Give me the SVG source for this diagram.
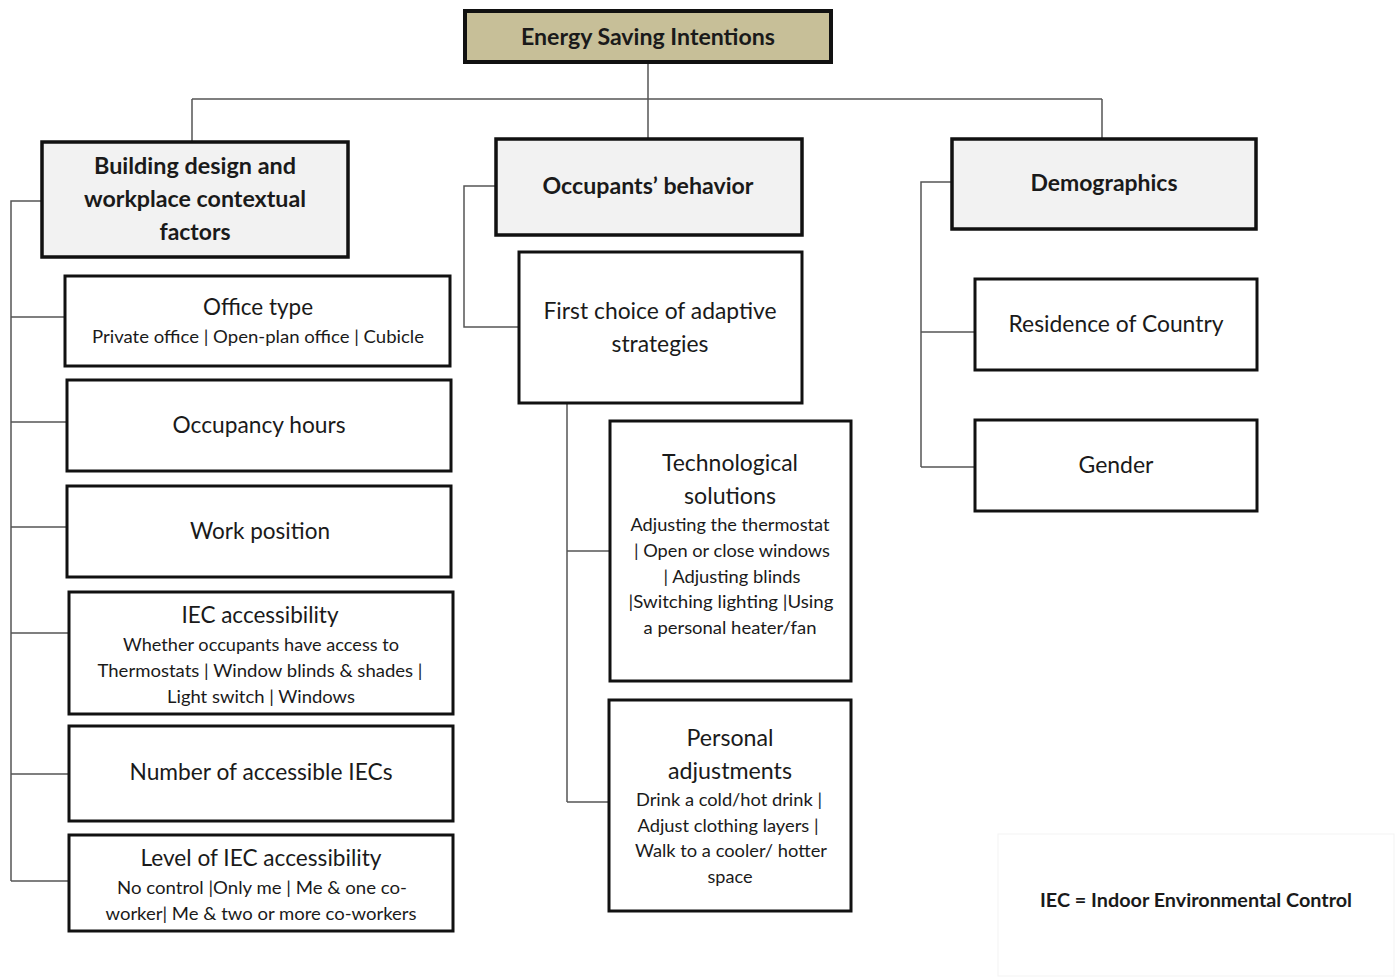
<svg xmlns="http://www.w3.org/2000/svg" width="1398" height="980" viewBox="0 0 1398 980">
<style>
.box{fill:#ffffff;stroke:#111;stroke-width:3}
.hdr{fill:#f2f2f2;stroke:#111;stroke-width:3.5}
.root{fill:#c7bf98;stroke:#111;stroke-width:4}
.t{font-family:Lato,"Open Sans","Liberation Sans",sans-serif;fill:#1a1a1a;text-anchor:middle}
.b{font-weight:bold;font-size:23px}
.m{font-size:23px}
.s{font-size:17px}
.c{fill:none;stroke:#555;stroke-width:1.5}
</style>
<rect width="1398" height="980" fill="#ffffff"/>
<g id="connectors">
<path class="c" d="M648 62V99M192 99H1102M192 99V141M648 99V138M1102 99V138"/>
<path class="c" d="M41 201H11V881M11 317H65M11 422H67M11 527H67M11 633H69M11 774H69M11 881H69"/>
<path class="c" d="M495 186H464V327H519"/>
<path class="c" d="M567 403V802M567 551H610M567 802H609"/>
<path class="c" d="M951 182H921V467M921 332H975M921 467H975"/>
</g>
<g id="root">
<rect class="root" x="465" y="11" width="366" height="51"/>
<text class="t b" x="648" y="45" textLength="254" lengthAdjust="spacingAndGlyphs">Energy Saving Intentions</text>
</g>
<g id="building">
<rect class="hdr" x="42" y="142" width="306" height="115"/>
<text class="t b" x="195" y="174" textLength="202" lengthAdjust="spacingAndGlyphs">Building design and</text>
<text class="t b" x="195" y="207" textLength="222" lengthAdjust="spacingAndGlyphs">workplace contextual</text>
<text class="t b" x="195" y="240" textLength="71" lengthAdjust="spacingAndGlyphs">factors</text>
</g>
<g id="occupants">
<rect class="hdr" x="496" y="139" width="306" height="96"/>
<text class="t b" x="648" y="194" textLength="211" lengthAdjust="spacingAndGlyphs">Occupants’ behavior</text>
</g>
<g id="demographics">
<rect class="hdr" x="952" y="139" width="304" height="90"/>
<text class="t b" x="1104" y="191" textLength="147" lengthAdjust="spacingAndGlyphs">Demographics</text>
</g>
<g id="office-type">
<rect class="box" x="65" y="276" width="385" height="90"/>
<text class="t m" x="258" y="315" textLength="110" lengthAdjust="spacingAndGlyphs">Office type</text>
<text class="t s" x="258" y="343" textLength="332" lengthAdjust="spacingAndGlyphs">Private office | Open-plan office | Cubicle</text>
</g>
<g id="occupancy-hours">
<rect class="box" x="67" y="380" width="384" height="91"/>
<text class="t m" x="259" y="433" textLength="173" lengthAdjust="spacingAndGlyphs">Occupancy hours</text>
</g>
<g id="work-position">
<rect class="box" x="67" y="486" width="384" height="91"/>
<text class="t m" x="260" y="539" textLength="140" lengthAdjust="spacingAndGlyphs">Work position</text>
</g>
<g id="iec-accessibility">
<rect class="box" x="69" y="592" width="384" height="122"/>
<text class="t m" x="260" y="623" textLength="157" lengthAdjust="spacingAndGlyphs">IEC accessibility</text>
<text class="t s" x="261" y="651" textLength="276" lengthAdjust="spacingAndGlyphs">Whether occupants have access to</text>
<text class="t s" x="260" y="677" textLength="325" lengthAdjust="spacingAndGlyphs">Thermostats | Window blinds &amp; shades |</text>
<text class="t s" x="261" y="703" textLength="188" lengthAdjust="spacingAndGlyphs">Light switch | Windows</text>
</g>
<g id="number-iecs">
<rect class="box" x="69" y="726" width="384" height="95"/>
<text class="t m" x="261" y="780" textLength="263" lengthAdjust="spacingAndGlyphs">Number of accessible IECs</text>
</g>
<g id="level-iec">
<rect class="box" x="69" y="835" width="384" height="96"/>
<text class="t m" x="261" y="866" textLength="241" lengthAdjust="spacingAndGlyphs">Level of IEC accessibility</text>
<text class="t s" x="262" y="894" textLength="290" lengthAdjust="spacingAndGlyphs">No control |Only me | Me &amp; one co-</text>
<text class="t s" x="261" y="920" textLength="311" lengthAdjust="spacingAndGlyphs">worker| Me &amp; two or more co-workers</text>
</g>
<g id="first-choice">
<rect class="box" x="519" y="252" width="283" height="151"/>
<text class="t m" x="660" y="319" textLength="233" lengthAdjust="spacingAndGlyphs">First choice of adaptive</text>
<text class="t m" x="660" y="352" textLength="97" lengthAdjust="spacingAndGlyphs">strategies</text>
</g>
<g id="technological">
<rect class="box" x="610" y="421" width="241" height="260"/>
<text class="t m" x="730" y="471" textLength="136" lengthAdjust="spacingAndGlyphs">Technological</text>
<text class="t m" x="730" y="504" textLength="92" lengthAdjust="spacingAndGlyphs">solutions</text>
<text class="t s" x="730" y="531" textLength="199" lengthAdjust="spacingAndGlyphs">Adjusting the thermostat</text>
<text class="t s" x="732" y="557" textLength="196" lengthAdjust="spacingAndGlyphs">| Open or close windows</text>
<text class="t s" x="732" y="583" textLength="137" lengthAdjust="spacingAndGlyphs">| Adjusting blinds</text>
<text class="t s" x="731" y="608" textLength="205" lengthAdjust="spacingAndGlyphs">|Switching lighting |Using</text>
<text class="t s" x="730" y="634" textLength="173" lengthAdjust="spacingAndGlyphs">a personal heater/fan</text>
</g>
<g id="personal">
<rect class="box" x="609" y="700" width="242" height="211"/>
<text class="t m" x="730" y="746" textLength="87" lengthAdjust="spacingAndGlyphs">Personal</text>
<text class="t m" x="730" y="779" textLength="124" lengthAdjust="spacingAndGlyphs">adjustments</text>
<text class="t s" x="729" y="806" textLength="186" lengthAdjust="spacingAndGlyphs">Drink a cold/hot drink |</text>
<text class="t s" x="728" y="832" textLength="181" lengthAdjust="spacingAndGlyphs">Adjust clothing layers |</text>
<text class="t s" x="731" y="857" textLength="192" lengthAdjust="spacingAndGlyphs">Walk to a cooler/ hotter</text>
<text class="t s" x="730" y="883" textLength="45" lengthAdjust="spacingAndGlyphs">space</text>
</g>
<g id="residence">
<rect class="box" x="975" y="279" width="282" height="91"/>
<text class="t m" x="1116" y="332" textLength="215" lengthAdjust="spacingAndGlyphs">Residence of Country</text>
</g>
<g id="gender">
<rect class="box" x="975" y="420" width="282" height="91"/>
<text class="t m" x="1116" y="473" textLength="75" lengthAdjust="spacingAndGlyphs">Gender</text>
</g>
<g id="legend">
<rect x="998" y="834" width="396" height="142" fill="#ffffff" stroke="#f3f3f3" stroke-width="1"/>
<text class="t" x="1196" y="907" font-weight="bold" font-size="19" textLength="312" lengthAdjust="spacingAndGlyphs">IEC = Indoor Environmental Control</text>
</g>
</svg>
